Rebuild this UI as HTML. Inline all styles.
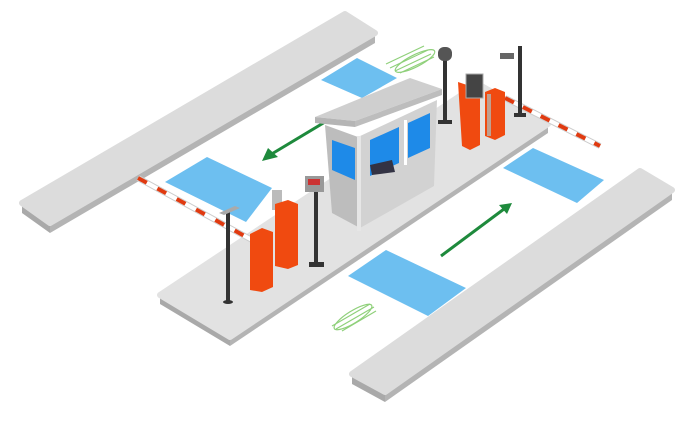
<!DOCTYPE html>
<html><head><meta charset="utf-8"><style>html,body{margin:0;padding:0;background:#fff}svg{display:block}</style></head>
<body>
<svg width="700" height="426" viewBox="0 0 700 426" xmlns="http://www.w3.org/2000/svg">
<!-- left curb -->
<polygon points="22,203 50,223 50,233 22,213" fill="#a9a9a9"/>
<polygon points="50,223 375,33 375,43 50,233" fill="#b4b4b4"/>
<polygon points="22,203 345,14 375,33 50,223" fill="#dcdcdc" stroke="#dcdcdc" stroke-width="6" stroke-linejoin="round"/>
<!-- right curb -->
<polygon points="352,374 385,392 385,402 352,384" fill="#a9a9a9"/>
<polygon points="385,392 672,190 672,200 385,402" fill="#b4b4b4"/>
<polygon points="352,374 640,171 672,190 385,392" fill="#dcdcdc" stroke="#dcdcdc" stroke-width="6" stroke-linejoin="round"/>
<!-- center island -->
<polygon points="160,295 230,337 230,346 160,304" fill="#a9a9a9"/>
<polygon points="230,337 548,124 548,133 230,346" fill="#b4b4b4"/>
<polygon points="160,295 478,84 548,124 230,337" fill="#e2e2e2" stroke="#e2e2e2" stroke-width="6" stroke-linejoin="round"/>
<!-- blue pads -->
<g fill="#6dbff0">
<polygon points="321,80 357,58 397,78 362,98"/>
<polygon points="165,182 207,157 272,188 246,222"/>
<polygon points="503,168 533,148 604,180 577,203"/>
<polygon points="348,276 386,250 466,288 428,316"/>
</g>
<!-- green arrows -->
<g stroke="#1e8a3c" stroke-width="3" fill="#1e8a3c">
<line x1="325" y1="122" x2="270" y2="155"/>
<polygon points="262,161 268,148 278,157" stroke="none"/>
<line x1="441" y1="256" x2="504" y2="209"/>
<polygon points="512,203 499,205 507,214" stroke="none"/>
</g>
<!-- loop sketches -->
<g stroke="#8fd07a" stroke-width="1.2" fill="none">
<path d="M386,64 l38,-18 M390,68 l38,-18 M395,71 l36,-17 M400,73 l34,-16"/>
<ellipse cx="415" cy="61" rx="22" ry="6" transform="rotate(-27 415 61)"/>
<path d="M332,326 l38,-22 M336,329 l38,-22 M342,331 l34,-20"/>
<ellipse cx="353" cy="317" rx="22" ry="6" transform="rotate(-32 353 317)"/>
</g>
<!-- right barrier arm -->
<line x1="505" y1="98" x2="600" y2="146" stroke="#ccc" stroke-width="6"/>
<line x1="505" y1="98" x2="600" y2="146" stroke="#fff" stroke-width="4"/>
<line x1="505" y1="98" x2="600" y2="146" stroke="#e03a10" stroke-width="4" stroke-dasharray="10,10"/>
<!-- speaker pole -->
<rect x="443" y="55" width="4" height="68" fill="#333"/>
<rect x="438" y="120" width="14" height="4" fill="#333"/>
<rect x="438" y="47" width="14" height="14" rx="6" fill="#555"/>
<!-- camera pole -->
<rect x="518" y="46" width="4" height="70" fill="#333"/>
<rect x="514" y="113" width="12" height="4" fill="#333"/>
<rect x="500" y="53" width="14" height="6" fill="#666"/>
<!-- right gates -->
<polygon points="458,82 470,86 480,82 480,145 470,150 462,146" fill="#f04a10"/>
<rect x="466" y="74" width="17" height="24" fill="#444" stroke="#aaa" stroke-width="1"/>
<polygon points="485,92 495,88 505,92 505,135 495,140 485,136" fill="#f04a10"/>
<rect x="487" y="94" width="4" height="42" fill="#c0a090"/>
<!-- booth -->
<polygon points="325,125 358,137 360,228 332,213" fill="#bdbdbd"/>
<polygon points="332,140 355,148 355,180 332,170" fill="#1e8ae8"/>
<polygon points="358,137 437,100 434,186 360,228" fill="#d2d2d2"/>
<polygon points="370,140 399,127 399,163 370,176" fill="#1e8ae8"/>
<polygon points="408,123 430,113 430,148 408,158" fill="#1e8ae8"/>
<rect x="404" y="120" width="3" height="45" fill="#fff"/>
<polygon points="370,165 392,160 395,172 372,175" fill="#334"/>
<rect x="357" y="136" width="4" height="95" fill="#e6e6e6"/>
<polygon points="315,117 410,78 442,89 355,121" fill="#cfcfcf"/>
<polygon points="315,117 355,121 355,127 315,123" fill="#b5b5b5"/>
<polygon points="355,121 442,89 442,95 355,127" fill="#bdbdbd"/>
<!-- left barrier arm -->
<line x1="138" y1="178" x2="252" y2="240" stroke="#ccc" stroke-width="6"/>
<line x1="138" y1="178" x2="252" y2="240" stroke="#fff" stroke-width="4"/>
<line x1="138" y1="178" x2="252" y2="240" stroke="#e03a10" stroke-width="4" stroke-dasharray="10,12"/>
<!-- left gates -->
<rect x="272" y="190" width="10" height="20" fill="#bbb"/>
<polygon points="275,204 288,200 298,204 298,265 288,269 275,266" fill="#f04a10"/>
<polygon points="250,234 262,228 273,232 273,287 262,292 250,290" fill="#f04a10"/>
<!-- left pole -->
<rect x="226" y="212" width="4" height="90" fill="#333"/>
<polygon points="219,213 235,206 240,208 224,215" fill="#aaa"/>
<ellipse cx="228" cy="302" rx="5" ry="2" fill="#333"/>
<!-- ticket pole -->
<rect x="314" y="190" width="4" height="75" fill="#333"/>
<rect x="309" y="262" width="15" height="5" fill="#333"/>
<rect x="305" y="176" width="19" height="16" fill="#999"/>
<rect x="308" y="179" width="12" height="6" fill="#c33"/>
</svg>
</body></html>
